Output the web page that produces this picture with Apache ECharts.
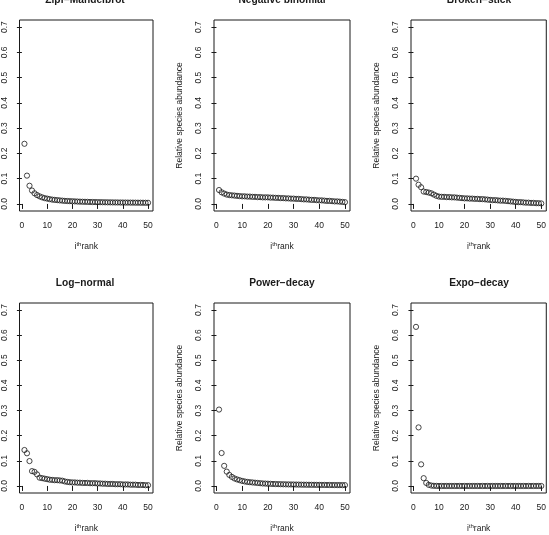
<!DOCTYPE html>
<html>
<head>
<meta charset="utf-8">
<script src="https://cdn.jsdelivr.net/npm/echarts@6/dist/echarts.min.js"></script>
<style>
html,body{margin:0;padding:0;background:#fff;}
#chart{width:549px;height:535px;}
</style>
</head>
<body>
<div id="chart"></div>
<script>
// ---- data ----
var ranks = [1,2,3,4,5,6,7,8,9,10,11,12,13,14,15,16,17,18,19,20,21,22,23,24,25,26,27,28,29,30,31,32,33,34,35,36,37,38,39,40,41,42,43,44,45,46,47,48,49,50];
var xTicks = [0,10,20,30,40,50];
var yTicks = [0,0.1,0.2,0.3,0.4,0.5,0.6,0.7];
var titles = ['Zipf\u2212Mandelbrot','Negative binomial','Broken\u2212stick','Log\u2212normal','Power\u2212decay','Expo\u2212decay'];
var yName = 'Relative species abundance';

var zipf = [0.238,0.112,0.072,0.053,0.042,0.035,0.030,0.026,0.023,0.021,0.019,0.017,0.016,0.015,0.014,0.013,0.012,0.0115,0.011,0.0105,0.010,0.0095,0.009,0.0087,0.0084,0.0081,0.0078,0.0075,0.0073,0.0071,0.0069,0.0067,0.0065,0.0063,0.0062,0.0060,0.0059,0.0058,0.0056,0.0055,0.0054,0.0053,0.0052,0.0051,0.0050,0.0049,0.0048,0.0047,0.0046,0.0045];
var negbin = [0.055,0.046,0.041,0.037,0.035,0.034,0.033,0.032,0.031,0.030,0.030,0.029,0.029,0.028,0.028,0.027,0.027,0.026,0.026,0.026,0.025,0.025,0.024,0.024,0.023,0.023,0.022,0.022,0.021,0.021,0.020,0.020,0.019,0.018,0.018,0.017,0.016,0.016,0.015,0.014,0.014,0.013,0.012,0.012,0.011,0.010,0.010,0.009,0.008,0.007];
var broken = [0.100,0.076,0.066,0.049,0.047,0.045,0.042,0.037,0.032,0.029,0.028,0.028,0.027,0.027,0.026,0.026,0.025,0.024,0.023,0.022,0.022,0.021,0.021,0.020,0.020,0.019,0.019,0.018,0.017,0.016,0.015,0.015,0.014,0.013,0.013,0.012,0.011,0.010,0.009,0.008,0.007,0.007,0.006,0.005,0.005,0.004,0.004,0.003,0.003,0.002];
var lognorm = [0.143,0.130,0.099,0.059,0.056,0.046,0.033,0.031,0.029,0.027,0.025,0.024,0.023,0.023,0.022,0.021,0.018,0.016,0.015,0.014,0.014,0.013,0.013,0.012,0.012,0.012,0.011,0.011,0.011,0.010,0.010,0.009,0.009,0.008,0.008,0.008,0.007,0.007,0.007,0.006,0.006,0.006,0.005,0.005,0.005,0.004,0.004,0.004,0.003,0.003];
var power = [0.304,0.131,0.080,0.057,0.044,0.036,0.030,0.026,0.023,0.020,0.018,0.016,0.015,0.014,0.013,0.012,0.011,0.010,0.0095,0.009,0.0085,0.008,0.0077,0.0073,0.0070,0.0067,0.0064,0.0062,0.0060,0.0058,0.0056,0.0054,0.0052,0.0050,0.0049,0.0047,0.0046,0.0045,0.0043,0.0042,0.0041,0.0040,0.0039,0.0038,0.0037,0.0036,0.0035,0.0035,0.0034,0.0033];
var expo = [0.633,0.233,0.086,0.031,0.012,0.0043,0.0016,0.0006,0.0002,0.0001,0,0,0,0,0,0,0,0,0,0,0,0,0,0,0,0,0,0,0,0,0,0,0,0,0,0,0,0,0,0,0,0,0,0,0,0,0,0,0,0];

var seriesData = [zipf, negbin, broken, lognorm, power, expo];

// ---- layout ----
var colLeft = [17, 214, 411];
var rowTop = [20, 303];
var boxW = 136, boxH = 191;
var ink = '#1a1a1a';
var fontFam = '"Liberation Sans", Arial, Helvetica, sans-serif';
var fs = 8.5;

var grids = [], xAxes = [], yAxes = [], series = [], graphics = [];
for (var i = 0; i < 6; i++) {
  var r = Math.floor(i / 3), c = i % 3;
  grids.push({
    left: colLeft[c], top: rowTop[r], width: boxW, height: boxH,
    show: true, borderColor: ink, borderWidth: 1, backgroundColor: 'transparent',
    containLabel: false
  });
  xAxes.push({
    gridIndex: i, type: 'value', min: -0.96, max: 51.96,
    axisLine: {show: false},
    splitLine: {show: false},
    axisTick: {show: true, customValues: xTicks, length: 5, lineStyle: {color: ink, width: 1}},
    axisLabel: {show: true, customValues: xTicks, margin: 10.5, color: ink, fontSize: fs, fontFamily: fontFam},
    name: '{a|i}{s|th}{a|rank}',
    nameLocation: 'middle', nameGap: 29.5,
    nameTextStyle: {
      color: ink, fontFamily: fontFam, fontSize: fs,
      rich: {
        a: {fontSize: fs, fontFamily: fontFam, color: ink, lineHeight: 12},
        s: {fontSize: 6, fontFamily: fontFam, color: ink, padding: [0, 0, 5, 0], lineHeight: 12}
      }
    }
  });
  yAxes.push({
    gridIndex: i, type: 'value', min: -0.028, max: 0.728,
    axisLine: {show: false},
    splitLine: {show: false},
    axisTick: {show: true, customValues: yTicks, length: 5, lineStyle: {color: ink, width: 1}},
    axisLabel: {show: true, customValues: yTicks, rotate: 90, margin: 10.5, color: ink, fontSize: fs, fontFamily: fontFam,
      formatter: function (v) { return v.toFixed(1); }},
    name: c === 0 ? '' : yName,
    nameLocation: 'middle', nameGap: 30, nameRotate: 90,
    nameTextStyle: {color: ink, fontSize: fs, fontFamily: fontFam}
  });
  var pts = [];
  for (var k = 0; k < ranks.length; k++) pts.push([ranks[k], seriesData[i][k]]);
  series.push({
    type: 'scatter', xAxisIndex: i, yAxisIndex: i, data: pts,
    symbol: 'circle', symbolSize: 5.2,
    itemStyle: {color: 'rgba(0,0,0,0)', borderColor: ink, borderWidth: 1},
    emphasis: {disabled: true}, silent: true, animation: false
  });
  graphics.push({
    type: 'text',
    x: colLeft[c] + boxW / 2, y: rowTop[r] - 20,
    style: {text: titles[i], align: 'center', verticalAlign: 'middle',
      fill: ink, font: 'bold 10.2px ' + fontFam}
  });
}

var chart = echarts.init(document.getElementById('chart'), null, {renderer: 'canvas'});
chart.setOption({
  animation: false,
  backgroundColor: '#fff',
  grid: grids, xAxis: xAxes, yAxis: yAxes, series: series,
  graphic: graphics
});
</script>
</body>
</html>
